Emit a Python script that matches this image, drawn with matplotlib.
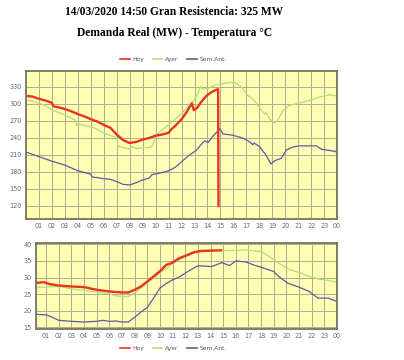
import matplotlib

matplotlib.use("Agg")

import matplotlib.pyplot as plt
from matplotlib.lines import Line2D

# Demanda (MW) - top panel, hour of day
hoy_h = [0, 0.5, 1, 1.5, 2, 2.1, 2.5, 3, 3.5, 4, 4.5, 5, 5.5, 6, 6.5, 7, 7.5, 8, 8.5,
         9, 9.5, 10, 10.5, 11, 11.2, 11.5, 12, 12.4, 12.8, 12.95, 13.2, 13.5, 13.8, 14,
         14.4, 14.82, 14.85]
hoy_mw = [314, 313, 309, 306, 302, 296, 294, 291, 287, 282, 278, 273, 269, 263, 258, 246,
          236, 231, 233, 237, 240, 244, 246, 249, 255, 261, 273, 286, 301, 289, 293, 303,
          311, 316, 322, 326, 120]

ayer_h = [0, 0.5, 1, 1.5, 2, 2.5, 3, 3.5, 3.8, 3.9, 4.0, 4.5, 5, 5.5, 6, 6.5, 7, 7.1,
          7.5, 8, 8.2, 8.5, 9, 9.5, 9.8, 10, 10.5, 11, 11.5, 12, 12.5, 13, 13.2, 13.45,
          13.6, 14, 14.6, 15.3, 15.7, 16.2, 16.7, 17.1, 17.5, 18, 18.4, 18.5, 18.8, 19.2,
          19.4, 19.8, 20.3, 21.1, 21.9, 22.6, 23.4, 24]
ayer_mw = [307, 305, 301, 297, 289, 285, 280, 275, 271, 261, 265, 262, 260, 255, 249, 244,
           241, 225, 223, 220, 225, 221, 223, 223, 227, 245, 254, 263, 273, 283, 295, 308,
           315, 331, 326, 327, 333, 336, 338, 337, 328, 315, 309, 294, 282, 285, 273, 266,
           270, 288, 297, 302, 306, 312, 316, 314]

sem_h = [0, 1, 2, 3, 4, 4.5, 5, 5.1, 5.5, 6, 6.5, 7, 7.5, 8, 8.5, 9, 9.5, 9.7, 10, 10.5,
         11, 11.5, 12, 12.5, 13, 13.2, 13.5, 13.8, 14.05, 14.45, 14.95, 15.2, 15.9, 16.7,
         17.2, 17.5, 17.6, 18, 18.5, 18.9, 19.2, 19.7, 20.1, 20.6, 21.1, 22.4, 22.8, 23.4,
         23.9, 24]
sem_mw = [215, 207, 199, 192, 182, 179, 176, 171, 170, 168, 167, 163, 158, 157, 161, 166,
          169, 175, 176.5, 179, 182, 188, 198, 208, 216, 220, 228, 235, 232, 244, 256, 247,
          245, 240, 234, 228, 231, 225, 210, 194, 200, 204, 219, 224, 226, 226, 220, 218,
          216, 213]

# Temperatura (C) - bottom panel
hoy_th = [0, 0.8, 1.3, 2, 3, 4, 5, 6, 7, 7.5, 8, 8.5, 9, 10, 10.5, 11, 11.5, 12, 12.6,
          13.2, 14, 14.83]
hoy_t = [28.3, 28.6, 28.0, 27.6, 27.3, 27.1, 26.3, 25.8, 25.5, 25.5, 26.3, 27.3, 28.8,
         31.9, 33.8, 34.5, 35.8, 36.5, 37.5, 38.0, 38.1, 38.2]

ayer_th = [0, 0.8, 2, 3, 4, 5, 6, 6.5, 7, 7.5, 8, 9, 10, 11, 12, 13, 14, 15, 16.8, 18,
           18.6, 19.4, 20.2, 21, 21.8, 22.6, 23.4, 24]
ayer_t = [26.8, 27.1, 27.3, 26.6, 26.1, 25.6, 25.1, 24.5, 24.3, 24.3, 25.3, 28.3, 31.3,
          34.2, 36.3, 37.8, 38.1, 38.1, 38.3, 37.8, 36.5, 34.3, 32.5, 31.5, 30.3, 29.5,
          29.1, 28.5]

sem_th = [0, 0.5, 1, 1.5, 2, 3, 4, 5, 5.5, 6, 6.5, 7, 7.5, 8, 8.5, 9, 9.5, 10, 10.5, 11,
          11.5, 12, 12.5, 13, 13.3, 14.1, 14.9, 15.5, 16, 16.8, 17.4, 18, 19, 19.4, 20.1,
          21, 21.8, 22.5, 23.3, 24]
sem_t = [19.2, 18.8, 18.8, 18.0, 17.1, 16.8, 16.6, 16.8, 17.1, 16.8, 16.9, 16.6, 16.6,
         18.0, 19.6, 21.0, 23.8, 26.8, 28.2, 29.3, 30.1, 31.3, 32.5, 33.5, 33.5, 33.3,
         34.5, 33.6, 35.0, 34.7, 33.8, 33.1, 31.8, 30.3, 28.3, 27.1, 25.8, 23.8, 23.8, 22.8]

hour_ticks = list(range(1, 25))
hour_labels = [f"{h % 24:02d}" for h in hour_ticks]
mw_ticks = [120, 150, 180, 210, 240, 270, 300, 330]
temp_ticks = [15, 20, 25, 30, 35, 40]

RED = "#e8341c"
GREEN = "#b4dc78"
BLUE = "#5a5aa6"
BG = "#ffffb4"
GRID = "#acac94"
FRAME = "#74745c"
TICK = "#5c6a82"


def style(ax, yticks, ylim, xlim):
    ax.set_facecolor(BG)
    ax.set_xlim(*xlim)
    ax.set_ylim(*ylim)
    ax.set_xticks(hour_ticks)
    ax.set_xticklabels(hour_labels)
    ax.set_yticks(yticks)
    ax.tick_params(length=0, labelsize=4.7, colors=TICK, pad=3)
    ax.grid(True, color=GRID, lw=0.7)
    ax.set_axisbelow(True)
    for s in ax.spines.values():
        s.set_color(FRAME)
        s.set_linewidth(1.3)


fig = plt.figure(figsize=(4.04, 3.6), dpi=100)
fig.patch.set_facecolor("white")

ax1 = fig.add_axes([0.0644, 0.3917, 0.770, 0.411])
ax1.plot(ayer_h, ayer_mw, color=GREEN, lw=0.9)
ax1.plot(sem_h, sem_mw, color=BLUE, lw=0.9)
ax1.plot(hoy_h, hoy_mw, color=RED, lw=1.7)
style(ax1, mw_ticks, (97, 358), (0, 24))

ax2 = fig.add_axes([0.0891, 0.0853, 0.745, 0.2406])
ax2.plot(ayer_th, ayer_t, color=GREEN, lw=0.9)
ax2.plot(sem_th, sem_t, color=BLUE, lw=0.9)
ax2.plot(hoy_th, hoy_t, color=RED, lw=1.7)
style(ax2, temp_ticks, (14.4, 40.5), (0.2, 24))

handles = [Line2D([], [], color=RED, lw=1.2), Line2D([], [], color=GREEN, lw=1.2),
           Line2D([], [], color=BLUE, lw=1.2)]
names = ["Hoy", "Ayer", "Sem.Ant."]
for y in (0.836, 0.033):
    fig.legend(handles, names, loc="center", bbox_to_anchor=(0.43, y), ncol=3,
               frameon=False, fontsize=4.3, handlelength=1.6, handletextpad=0.5,
               columnspacing=1.4, labelcolor="#555555")

fig.text(0.432, 0.968, "14/03/2020 14:50 Gran Resistencia: 325 MW", ha="center",
         va="center", fontsize=8.3, fontweight="bold", family="Liberation Serif")
fig.text(0.432, 0.908, "Demanda Real (MW) - Temperatura °C", ha="center",
         va="center", fontsize=8.3, fontweight="bold", family="Liberation Serif")

fig.savefig("out.png", dpi=100)
